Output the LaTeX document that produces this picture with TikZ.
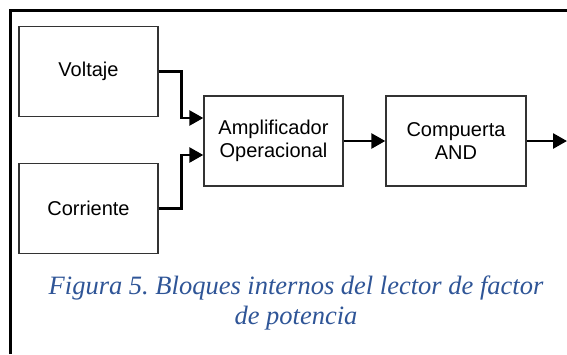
\documentclass[tikz,border=0pt]{standalone}
\usepackage{fontspec}
\setmainfont{Liberation Sans}
\newfontfamily\capfont{Liberation Serif}
\usetikzlibrary{arrows.meta,calc}
\definecolor{capblue}{HTML}{2F5597}
\definecolor{boxgray}{HTML}{333333}
\begin{document}
\frenchspacing
\begin{tikzpicture}[x=1pt,y=-1pt,
  blk/.style={draw=boxgray,line width=1.4pt,minimum width=139pt,minimum height=90pt,inner sep=0pt,align=center,font=\fontsize{20}{23}\selectfont},
  conn/.style={line width=2.7pt,-{Triangle[length=14pt,width=15pt]}}]
\useasboundingbox (0,0) rectangle (567,354);
\fill[white] (0,0) rectangle (567,354);
\draw[line width=3pt] (10,354) -- (10,10) -- (567,10);
\node[blk] (volt) at (88.5,71.5) {Voltaje};
\node[blk] (corr) at (88.5,208.5) {Corriente};
\node[blk] (amp) at (273.5,141) {Amplificador\\Operacional};
\node[blk,minimum width=140pt] (and) at (456,141) {Compuerta\\AND};
\coordinate (out) at (567,141);
\draw[conn] (volt.east) -- ++(22.5,0) |- ($(amp.west)+(0,-23)$);
\draw[conn] (corr.east) -- ++(22.5,0) |- ($(amp.west)+(0,14)$);
\draw[conn] (amp.east) -- (and.west);
\draw[conn] (and.east) -- (out);
\node[text=capblue,font=\capfont\itshape\fontsize{26.5}{30}\selectfont,align=center] (cap) at (296,303) {Figura 5. Bloques internos del lector de factor\\de potencia};
\end{tikzpicture}
\end{document}
